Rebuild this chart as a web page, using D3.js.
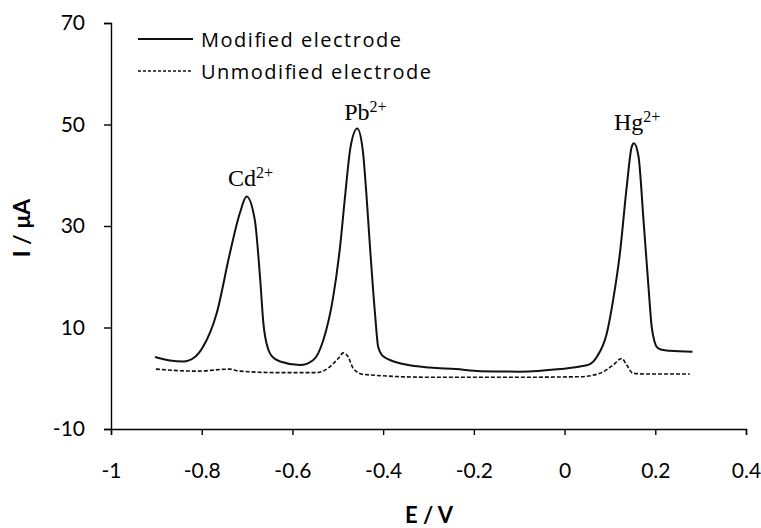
<!DOCTYPE html>
<html>
<head>
<meta charset="utf-8">
<script src="https://cdn.jsdelivr.net/npm/d3@7"></script>
<style>
  body { margin: 0; background: #fff; }
  .tick text { font-family: Lato, "Open Sans", sans-serif; font-size: 21px; fill: #000; }
</style>
</head>
<body>
<div id="chart"></div>
<script>
// data: potential (V) and current (uA)
var modE = [-0.903, -0.87, -0.841, -0.815, -0.797, -0.767, -0.738, -0.716, -0.701, -0.683, -0.671, -0.664, -0.653, -0.645, -0.627, -0.583, -0.554, -0.532, -0.510, -0.495, -0.484, -0.472, -0.457, -0.445, -0.436, -0.429, -0.418, -0.411, -0.402, -0.385, -0.35, -0.297, -0.24, -0.186, -0.1, -0.01, 0.034, 0.056, 0.071, 0.093, 0.107, 0.122, 0.137, 0.148, 0.153, 0.163, 0.174, 0.185, 0.192, 0.198, 0.205, 0.215, 0.232, 0.282];
var modI = [4.2, 3.5, 3.3, 4.2, 6.2, 12.8, 24.6, 32.5, 35.8, 31.2, 19.4, 10.8, 5.6, 4.3, 3.3, 2.6, 3.6, 7.5, 16.1, 25.9, 35.8, 45.5, 49.2, 45.0, 35.1, 25.9, 12.8, 6.2, 4.5, 3.6, 2.7, 2.1, 1.8, 1.4, 1.3, 1.8, 2.3, 2.8, 4.2, 8.8, 15.4, 24.6, 37.7, 45.6, 46.3, 43.7, 31.2, 18.0, 10.2, 7.3, 6.0, 5.6, 5.4, 5.2];

var unmodE = [-0.901, -0.811, -0.738, -0.716, -0.627, -0.547, -0.517, -0.498, -0.488, -0.477, -0.466, -0.444, -0.297, -0.1, 0.034, 0.078, 0.107, 0.126, 0.137, 0.151, 0.181, 0.276];
var unmodI = [1.8, 1.4, 1.8, 1.4, 1.1, 1.1, 2.3, 4.0, 5.0, 4.2, 1.95, 0.76, 0.2, 0.2, 0.3, 0.97, 2.6, 3.9, 2.6, 0.97, 0.84, 0.84];

var xTicks = [-1, -0.8, -0.6, -0.4, -0.2, 0, 0.2, 0.4];
var yTicks = [-10, 10, 30, 50, 70];

var legendLabels = ["Modified electrode", "Unmodified electrode"];
// peak names, anchored at the start of the text (E, I)
var peakIons = ["Cd", "Pb", "Hg"];
var peakE = [-0.742, -0.486, 0.109];
var peakI = [37.9, 50.9, 48.9];

var margin = { top: 23, right: 15, bottom: 99, left: 111 },
  width = 761 - margin.left - margin.right,
  height = 528 - margin.top - margin.bottom;

var svg = d3
  .select("#chart")
  .append("svg")
  .attr("width", 761)
  .attr("height", 528)
  .append("g")
  .attr("transform", "translate(" + margin.left + "," + margin.top + ")");

var x = d3.scaleLinear().domain([-1, 0.4]).range([0, width]);
var y = d3.scaleLinear().domain([-10, 70]).range([height, 0]);

var plain = function (d) { return String(d); };

// axes
var xAxis = svg
  .append("g")
  .attr("transform", "translate(0," + height + ")")
  .call(d3.axisBottom(x).tickValues(xTicks).tickSize(6).tickPadding(28).tickFormat(plain));
var yAxis = svg
  .append("g")
  .call(d3.axisLeft(y).tickValues(yTicks).tickSize(7).tickPadding(19).tickFormat(plain));

[xAxis, yAxis].forEach(function (a) {
  a.select(".domain").attr("stroke", "#000").attr("stroke-width", 1.4);
  a.selectAll(".tick line").attr("stroke", "#000").attr("stroke-width", 1.4);
});

// axis titles
svg
  .append("text")
  .attr("x", 318)
  .attr("y", height + 94)
  .attr("text-anchor", "middle")
  .style("font-family", "Lato, 'Open Sans', sans-serif")
  .style("font-weight", "bold")
  .style("font-size", "22px")
  .text("E / V");

svg
  .append("text")
  .attr("transform", "translate(-81," + (height / 2 + 2) + ")rotate(-90)")
  .attr("text-anchor", "middle")
  .style("font-family", "Lato, 'Open Sans', sans-serif")
  .style("font-weight", "bold")
  .style("font-size", "23px")
  .text("I / μA");

// lines
var line = d3
  .line()
  .x(function (d) { return x(d[0]); })
  .y(function (d) { return y(d[1]); })
  .curve(d3.curveMonotoneX);

svg
  .append("path")
  .datum(d3.zip(unmodE, unmodI))
  .attr("fill", "none")
  .attr("stroke", "#111")
  .attr("stroke-width", 1.6)
  .attr("stroke-dasharray", "4,2")
  .attr("d", line);

svg
  .append("path")
  .datum(d3.zip(modE, modI))
  .attr("fill", "none")
  .attr("stroke", "#111")
  .attr("stroke-width", 2)
  .attr("d", line);

// legend
var legend = svg.append("g").attr("transform", "translate(27,16)");
legendLabels.forEach(function (lab, i) {
  var g = legend.append("g").attr("transform", "translate(0," + i * 32 + ")");
  g.append("line")
    .attr("x1", 0)
    .attr("x2", 55)
    .attr("stroke", "#111")
    .attr("stroke-width", i === 0 ? 1.8 : 1.4)
    .attr("stroke-dasharray", i === 0 ? null : "3,2");
  g.append("text")
    .attr("x", 63)
    .attr("y", 8)
    .attr("textLength", i === 0 ? 200 : 230)
    .attr("lengthAdjust", "spacing")
    .style("font-family", "'Open Sans', Lato, sans-serif")
    .style("font-size", "20px")
    .text(lab);
});

// peak labels
peakIons.forEach(function (ion, i) {
  var t = svg
    .append("text")
    .attr("x", x(peakE[i]))
    .attr("y", y(peakI[i]))
    .style("font-family", "'Liberation Serif', serif")
    .style("font-size", "24px");
  t.append("tspan").text(ion);
  t.append("tspan").attr("dy", "-8").style("font-size", "16px").text("2+");
});
</script>
</body>
</html>
